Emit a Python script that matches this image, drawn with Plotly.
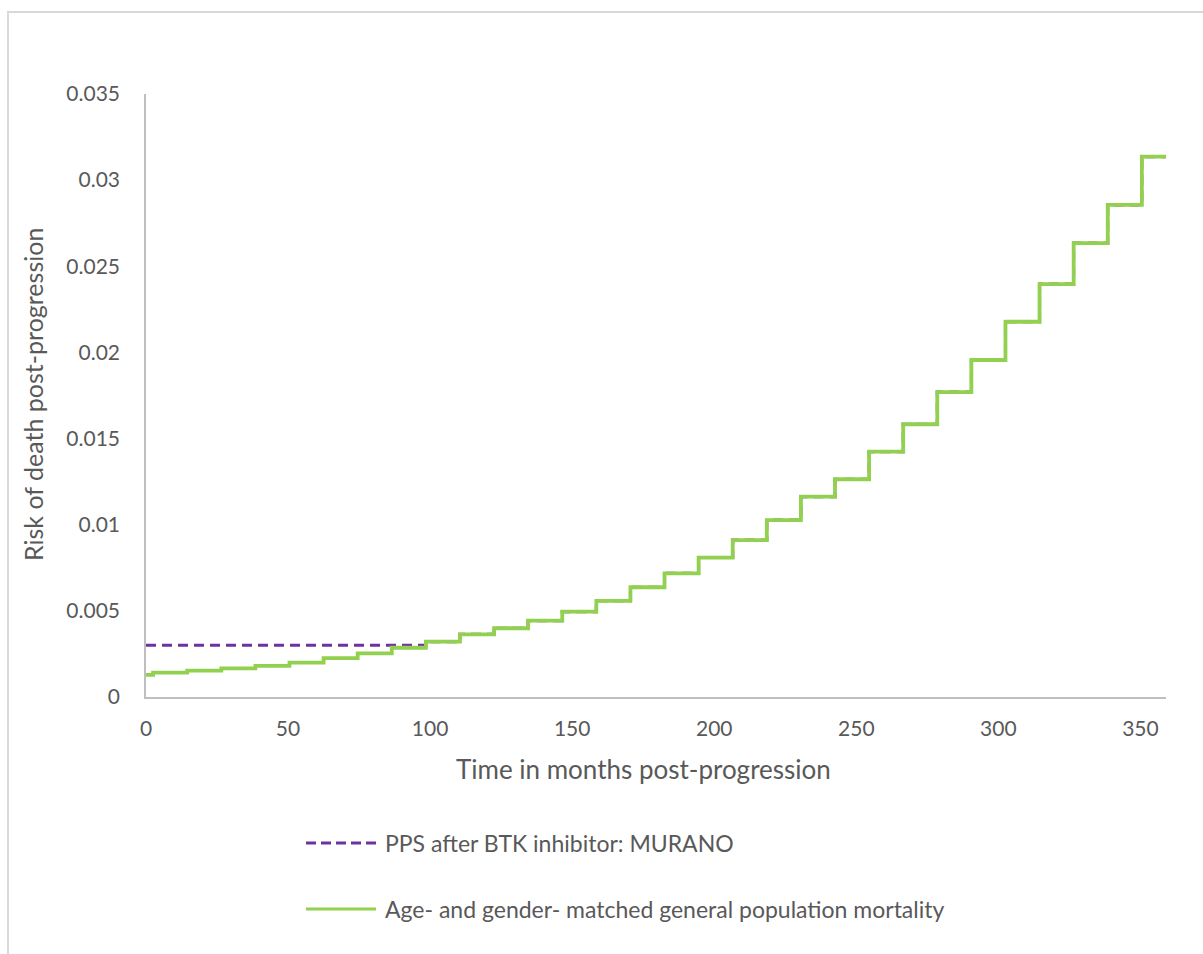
import plotly.graph_objects as go

# Month at which each yearly mortality level begins (last entry = end of horizon)
step_months = [0, 2.5, 14.5, 26.5, 38.5, 50.5, 62.5, 74.5, 86.5, 98.5, 110.5,
               122.5, 134.5, 146.5, 158.5, 170.5, 182.5, 194.5, 206.5, 218.5,
               230.5, 242.5, 254.5, 266.5, 278.5, 290.5, 302.5, 314.5, 326.5,
               338.5, 350.5, 359]

# Monthly risk of death: age- and gender-matched general population
gen_pop_risk = [0.00128, 0.00141, 0.00153, 0.00166, 0.00181, 0.00200, 0.00226,
                0.00253, 0.00286, 0.00321, 0.00364, 0.00399, 0.00443, 0.00495,
                0.00558, 0.00637, 0.00718, 0.00809, 0.00911, 0.01027, 0.01163,
                0.01264, 0.01424, 0.01583, 0.01770, 0.01956, 0.02178, 0.02397,
                0.02635, 0.02856, 0.03136]

# Monthly risk of death post-progression after BTK inhibitor (MURANO)
pps_risk = [0.0030, 0.0030, 0.0030, 0.0030, 0.0030, 0.0030, 0.0030, 0.0030,
            0.0030, 0.00321, 0.00364, 0.00399, 0.00443, 0.00495, 0.00558,
            0.00637, 0.00718, 0.00809, 0.00911, 0.01027, 0.01163, 0.01264,
            0.01424, 0.01583, 0.01770, 0.01956, 0.02178, 0.02397, 0.02635,
            0.02856, 0.03136]

series_names = ["PPS after BTK inhibitor: MURANO",
                "Age- and gender- matched general population mortality"]

x_ticks = [0, 50, 100, 150, 200, 250, 300, 350]
y_ticks = [0, 0.005, 0.01, 0.015, 0.02, 0.025, 0.03, 0.035]
y_tick_text = ["0", "0.005", "0.01", "0.015", "0.02", "0.025", "0.03", "0.035"]

PURPLE = "#7030A0"
GREEN = "#92D050"
TEXT = "#595959"
AXIS = "#BFBFBF"
FONT = "Lato"

# figure geometry (px)
W, H = 1203, 954
L, R, T, B = 146, 37, 94, 257
PW, PH = W - L - R, H - T - B


def px_x(p):
    return (p - L) / PW


def px_y(p):
    return (H - B - p) / PH


def hold(xs, ys):
    # repeat the last level so the step line reaches the end of the horizon
    return xs, list(ys) + [ys[-1]]


fig = go.Figure()

x_p, y_p = hold(step_months, pps_risk)
fig.add_trace(go.Scatter(
    x=x_p, y=y_p, mode="lines", line_shape="hv", name=series_names[0],
    line=dict(color=PURPLE, width=3, dash="10px,6px"), showlegend=False,
))
x_g, y_g = hold(step_months, gen_pop_risk)
fig.add_trace(go.Scatter(
    x=x_g, y=y_g, mode="lines", line_shape="hv", name=series_names[1],
    line=dict(color=GREEN, width=3.8), showlegend=False,
))

fig.update_xaxes(
    range=[0, 359], tickvals=x_ticks, showgrid=False, zeroline=False,
    showline=True, linecolor=AXIS, linewidth=1.5, ticks="",
    ticklabelstandoff=12, tickfont=dict(family=FONT, size=21, color=TEXT),
)
fig.update_yaxes(
    range=[0, 0.035], tickvals=y_ticks, ticktext=y_tick_text, showgrid=False,
    zeroline=False, showline=True, linecolor=AXIS, linewidth=1.5, ticks="",
    ticklabelstandoff=20, tickfont=dict(family=FONT, size=21, color=TEXT),
)

annotations = [
    dict(text="Time in months post-progression", x=px_x(643), y=px_y(769),
         xref="paper", yref="paper", showarrow=False,
         font=dict(family=FONT, size=26, color=TEXT),
         xanchor="center", yanchor="middle"),
    dict(text="Risk of death post-progression", x=px_x(33), y=px_y(395),
         xref="paper", yref="paper", showarrow=False, textangle=-90,
         font=dict(family=FONT, size=25, color=TEXT),
         xanchor="center", yanchor="middle"),
]

shapes = [
    # outer chart-area border
    dict(type="rect", xref="paper", yref="paper",
         x0=px_x(8), x1=px_x(1230), y0=px_y(990), y1=px_y(12),
         line=dict(color="#D9D9D9", width=2), fillcolor="rgba(0,0,0,0)",
         layer="below"),
]

# legend drawn below the plot
legend_rows = [(series_names[0], PURPLE, "10px,5px", 843),
               (series_names[1], GREEN, "solid", 909)]
for name, color, dash, yy in legend_rows:
    shapes.append(dict(type="line", xref="paper", yref="paper",
                       x0=px_x(306), x1=px_x(376), y0=px_y(yy), y1=px_y(yy),
                       line=dict(color=color, width=3, dash=dash)))
    annotations.append(dict(text=name, x=px_x(383), y=px_y(yy),
                            xref="paper", yref="paper", showarrow=False,
                            xanchor="left", yanchor="middle",
                            font=dict(family=FONT, size=23, color=TEXT)))

fig.update_layout(
    width=W, height=H, margin=dict(l=L, r=R, t=T, b=B),
    paper_bgcolor="white", plot_bgcolor="white",
    shapes=shapes, annotations=annotations,
)

fig.write_html("out.html")
